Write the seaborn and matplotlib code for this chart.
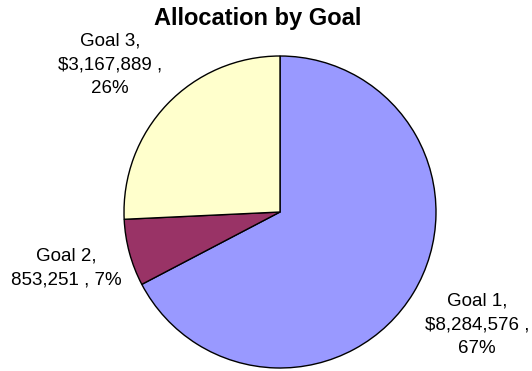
import matplotlib
matplotlib.use("Agg")
import matplotlib.pyplot as plt
import seaborn as sns

# data
goals = ["Goal 1", "Goal 2", "Goal 3"]
amounts = [8284576, 853251, 3167889]
amount_labels = ["$8,284,576", "853,251", "$3,167,889"]
pct_labels = ["67%", "7%", "26%"]

sns.set_style("white")
plt.rcParams['font.family'] = ['Liberation Sans', 'DejaVu Sans']
plt.rcParams['text.color'] = 'black'

colors = sns.color_palette(["#9999FF", "#993366", "#FFFFCC"])

fig = plt.figure(figsize=(5.32, 3.71), dpi=100)
W, H = 532, 371
cx, cy, r = 280, 371 - 212, 156
ax = fig.add_axes([(cx - r) / W, (cy - r) / H, 2 * r / W, 2 * r / H])

ax.pie(amounts, colors=colors, startangle=90, counterclock=False,
       wedgeprops=dict(edgecolor="black", linewidth=1.0))
ax.set_xlim(-1, 1)
ax.set_ylim(-1, 1)
ax.axis("off")

# label centres in pixels from the top-left corner
label_pos = [(477, 325), (66, 268), (110, 65)]
texts = [
    f"{goals[0]},\n{amount_labels[0]} ,\n{pct_labels[0]}",
    f"{goals[1]},\n{amount_labels[1]} , {pct_labels[1]}",
    f"{goals[2]},\n{amount_labels[2]} ,\n{pct_labels[2]}",
]
for (px, py), t in zip(label_pos, texts):
    fig.text(px / W, 1 - py / H, t, ha="center", va="center",
             fontsize=13.5, linespacing=1.5, color="black")

fig.text(258 / W, 1 - 25 / H, "Allocation by Goal", ha="center", va="baseline",
         fontsize=17, fontweight="bold", color="black")

fig.savefig("out.png", dpi=100)
